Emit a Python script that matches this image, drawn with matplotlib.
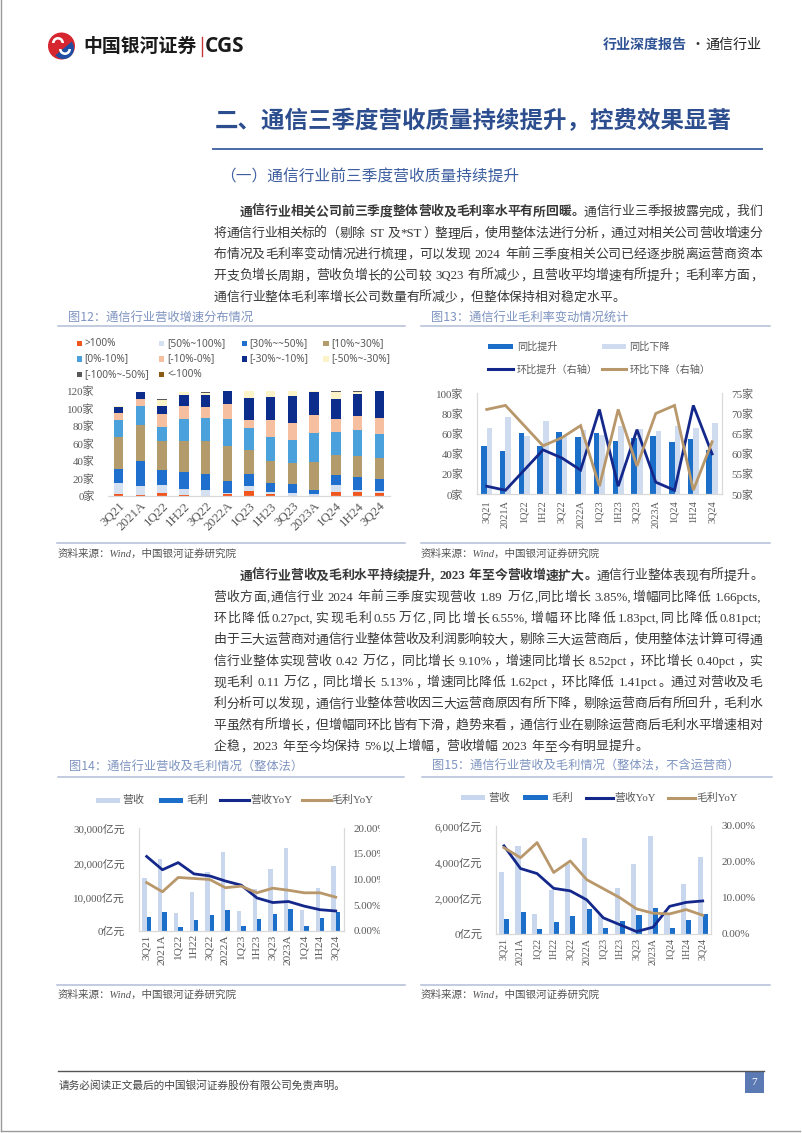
import matplotlib
matplotlib.use('Agg')
import matplotlib.pyplot as plt
from matplotlib.patches import Rectangle, Circle, Wedge
from matplotlib.lines import Line2D
from matplotlib.ticker import FuncFormatter
from matplotlib.transforms import Bbox, TransformedBbox
import numpy as np

W, H = 802, 1133
CJK = 'Noto Sans CJK SC'
SERIF = ['Liberation Serif', CJK]
plt.rcParams['font.family'] = [CJK, 'DejaVu Sans']
plt.rcParams['axes.unicode_minus'] = False

# ---------------- data ----------------
cats = ['3Q21', '2021A', '1Q22', '1H22', '3Q22', '2022A', '1Q23', '1H23',
        '3Q23', '2023A', '1Q24', '1H24', '3Q24']

# Fig12: distribution of revenue growth (number of companies)
dist_labels = ['>100%', '[50%~100%]', '[30%~~50%]', '[10%~30%]', '[0%-10%]',
               '[-10%-0%]', '[-30%~-10%]', '[-50%~-30%]', '[-100%~-50%]', '<-100%']
gt100     = [2, 1, 3, 1, 0, 2, 5, 2, 0, 0, 4, 4, 3]
r50_100   = [13, 10, 9, 7, 6, 1, 6, 2, 3, 2, 8, 3, 2]
r30_50    = [15, 29, 17, 19, 19, 14, 14, 11, 10, 5, 12, 14, 14]
r10_30    = [37, 41, 34, 36, 37, 40, 27, 25, 24, 32, 23, 24, 24]
r0_10     = [19, 22, 16, 25, 27, 31, 25, 27, 27, 33, 26, 30, 28]
rm10_0    = [9, 7, 14, 15, 12, 17, 10, 20, 19, 20, 15, 16, 18]
rm30_m10  = [6, 9, 9, 12, 14, 15, 25, 26, 31, 26, 22, 25, 31]
rm50_m30  = [1, 0, 7, 3, 2, 0, 8, 7, 6, 2, 8, 3, 0]
rm100_m50 = [1, 0, 2, 0, 2, 0, 0, 0, 0, 0, 2, 1, 0]
lt_m100   = [0, 0, 0, 0, 0, 0, 0, 0, 0, 0, 0, 0, 0]
dist_colors = ['#f0561d', '#d5e0f1', '#1f6fce', '#b39b6c', '#4ba1dc',
               '#f6bf9f', '#0c2d8b', '#fdf3c9', '#595959', '#8c5a14']

# Fig13: gross margin change (number of companies)
yoy_up    = [48, 43, 61, 48, 62, 57, 61, 53, 56, 58, 52, 55, 44]
yoy_down  = [66, 77, 58, 73, 58, 64, 59, 68, 65, 63, 68, 66, 71]
qoq_up    = [52, 51, 56, 61, 59, 56, 71, 52, 66, 53, 51, 72, 60]
qoq_down  = [71, 72, 67, 62, 64, 67, 52, 71, 57, 70, 72, 51, 63]
fig13_labels = ['同比提升', '同比下降', '环比提升（右轴）', '环比下降（右轴）']

# Fig14: industry revenue & gross profit (亿元, %)
rev       = [15500, 21000, 5300, 11400, 17100, 23100, 5800, 12100, 18200, 24300, 6100, 12600, 19000]
gp        = [4100, 5600, 1200, 3000, 4500, 6100, 1300, 3300, 5000, 6500, 1500, 3600, 5500]
rev_yoy   = [14.5, 11.9, 13.3, 11.1, 10.7, 9.7, 8.9, 6.4, 5.5, 5.7, 4.8, 4.1, 3.85]
gp_yoy    = [9.4, 7.6, 10.4, 10.2, 10.0, 8.4, 8.7, 7.4, 8.3, 7.9, 7.4, 7.4, 6.55]

# Fig15: excluding operators
rev_ex     = [3440, 4870, 1110, 2450, 3900, 5330, 1040, 2540, 3890, 5440, 1050, 2780, 4240]
gp_ex      = [815, 1200, 280, 630, 980, 1370, 310, 690, 1060, 1440, 310, 740, 1110]
rev_ex_yoy = [24.4, 18.1, 16.7, 12.6, 11.9, 9.4, 4.4, 2.5, 0.6, 1.8, 7.6, 8.7, 9.1]
gp_ex_yoy  = [23.9, 21.1, 25.3, 17.0, 20.2, 15.0, 12.5, 10.0, 6.9, 5.7, 5.5, 6.7, 5.13]
fin_labels = ['营收', '毛利', '营收YoY', '毛利YoY']

# ---------------- styles ----------------
LIGHT = '#c9d7ee'
BLUE = '#1c6fc9'
NAVY = '#14288b'
TAN = '#b8976b'
TXT = '#595959'
SPINE = '#d9d9d9'
CAP = '#7d93c0'
BODY = '#383838'

fig = plt.figure(figsize=(W / 100, H / 100), dpi=100)
page = fig.add_axes([0, 0, 1, 1])
page.set_xlim(0, W)
page.set_ylim(H, 0)
page.axis('off')


def add_ax(l, t, r, b):
    return fig.add_axes([l / W, 1 - b / H, (r - l) / W, (b - t) / H])


def style(ax, spines=('bottom',)):
    for s in ax.spines:
        ax.spines[s].set_visible(s in spines)
        ax.spines[s].set_color(SPINE)
        ax.spines[s].set_linewidth(0.9)
    ax.tick_params(length=0, colors=TXT)
    ax.patch.set_alpha(0)


def set_font(labels, size):
    for t in labels:
        t.set_fontfamily(SERIF)
        t.set_fontsize(size)
        t.set_color(TXT)


x = np.arange(len(cats))

# ---------------- Fig12 ----------------
ax1 = add_ax(107.8, 390.7, 390.2, 495.7)
style(ax1, ('bottom',))
bottom = np.zeros(len(cats))
series = [gt100, r50_100, r30_50, r10_30, r0_10, rm10_0, rm30_m10, rm50_m30, rm100_m50, lt_m100]
for vals, col in zip(series, dist_colors):
    ax1.bar(x, vals, 0.43, bottom=bottom, color=col, linewidth=0)
    bottom += np.array(vals)
ax1.set_xlim(-0.5, len(cats) - 0.5)
ax1.set_ylim(0, 120)
ax1.set_yticks(range(0, 121, 20))
ax1.yaxis.set_major_formatter(FuncFormatter(lambda v, p: f'{v:.0f}家'))
ax1.set_xticks(x)
ax1.set_xticklabels(cats, rotation=45, ha='right', va='top', rotation_mode='anchor')
ax1.tick_params(axis='y', pad=9.5)
ax1.tick_params(axis='x', pad=3)
set_font(ax1.get_yticklabels(), 7.9)
set_font(ax1.get_xticklabels(), 9.4)

# legend Fig12
rows = [343.3, 359.0, 374.6]
cols = [76.7, 159.0, 241.7, 323.3]
for i, (lab, col) in enumerate(zip(dist_labels, dist_colors)):
    r, c = divmod(i, 4)
    page.add_patch(Rectangle((cols[c], rows[r] - 2.7), 5.4, 5.4, color=col, lw=0))
    page.text(cols[c] + 8, rows[r], lab, fontsize=7.3, family=['Noto Sans', CJK],
              color=TXT, va='center', ha='left')

# ---------------- Fig13 ----------------
ax2 = add_ax(477.3, 393.3, 721.5, 494.3)
style(ax2, ('bottom', 'left', 'right'))
ax2.bar(x - 0.15, yoy_up, 0.30, color=BLUE, linewidth=0)
ax2.bar(x + 0.15, yoy_down, 0.30, color='#cfdcf0', linewidth=0)
ax2.set_xlim(-0.5, len(cats) - 0.5)
ax2.set_ylim(0, 100)
ax2.set_yticks(range(0, 101, 20))
ax2.yaxis.set_major_formatter(FuncFormatter(lambda v, p: f'{v:.0f}家'))
ax2.set_xticks(x)
ax2.set_xticklabels(cats, rotation=90, ha='center', va='top')
ax2.tick_params(axis='y', pad=10)
ax2.tick_params(axis='x', pad=4.5)
set_font(ax2.get_yticklabels(), 7.9)
set_font(ax2.get_xticklabels(), 7.4)
ax2r = ax2.twinx()
style(ax2r, ())
ax2r.plot(x, qoq_up, color=NAVY, lw=2.0, solid_joinstyle='miter')
ax2r.plot(x, qoq_down, color=TAN, lw=2.0, solid_joinstyle='miter')
ax2r.set_ylim(50, 75)
ax2r.set_yticks(range(50, 76, 5))
ax2r.yaxis.set_major_formatter(FuncFormatter(lambda v, p: f'{v:.0f}家'))
ax2r.tick_params(axis='y', pad=7.3)
set_font(ax2r.get_yticklabels(), 7.9)

# legend Fig13
page.add_patch(Rectangle((488, 344.2), 25, 5.2, color=BLUE, lw=0))
page.text(516.7, 346.8, fig13_labels[0], fontsize=7.3, color=TXT, va='center')
page.add_patch(Rectangle((601.7, 344.2), 24, 5.2, color='#cfdcf0', lw=0))
page.text(629.3, 346.8, fig13_labels[1], fontsize=7.3, color=TXT, va='center')
page.add_line(Line2D([488, 513], [369.3, 369.3], color=NAVY, lw=2.2))
page.text(516.7, 369.3, fig13_labels[2], fontsize=7.3, color=TXT, va='center')
page.add_line(Line2D([601.7, 625.7], [369.3, 369.3], color=TAN, lw=2.2))
page.text(629.3, 369.3, fig13_labels[3], fontsize=7.3, color=TXT, va='center')

# ---------------- Fig14 ----------------
ax3 = add_ax(138.8, 828.3, 343.6, 930.7)
style(ax3, ('bottom', 'left', 'right'))
ax3.bar(x - 0.14, rev, 0.28, color=LIGHT, linewidth=0)
ax3.bar(x + 0.14, gp, 0.28, color=BLUE, linewidth=0)
ax3.set_xlim(-0.5, len(cats) - 0.5)
ax3.set_ylim(0, 30000)
ax3.set_yticks(range(0, 30001, 10000))
ax3.yaxis.set_major_formatter(FuncFormatter(lambda v, p: f'{v:,.0f}亿元'))
ax3.set_xticks(x)
ax3.set_xticklabels(cats, rotation=90, ha='center', va='top')
ax3.tick_params(axis='y', pad=10)
ax3.tick_params(axis='x', pad=2.6)
set_font(ax3.get_yticklabels(), 7.9)
set_font(ax3.get_xticklabels(), 8.2)
ax3r = ax3.twinx()
style(ax3r, ())
ax3r.plot(x, rev_yoy, color=NAVY, lw=2.0)
ax3r.plot(x, gp_yoy, color=TAN, lw=2.0)
ax3r.set_ylim(0, 20)
ax3r.set_yticks(range(0, 21, 5))
ax3r.yaxis.set_major_formatter(FuncFormatter(lambda v, p: f'{v:.2f}%'))
ax3r.tick_params(axis='y', pad=7)
set_font(ax3r.get_yticklabels(), 7.9)
clipbox = TransformedBbox(Bbox.from_extents(0, 0, 380 / W, 1), fig.transFigure)
for tk in ax3r.yaxis.get_major_ticks():
    tk.label2.set_clip_on(True)
    tk.label2.set_clip_box(clipbox)

# legend Fig14
ly = 800.3
page.add_patch(Rectangle((96, ly - 2.4), 24, 4.8, color=LIGHT, lw=0))
page.text(122.7, ly, fin_labels[0], fontsize=7.9, color=TXT, va='center', family=SERIF)
page.add_patch(Rectangle((159, ly - 2.4), 24.3, 4.8, color=BLUE, lw=0))
page.text(186, ly, fin_labels[1], fontsize=7.9, color=TXT, va='center', family=SERIF)
page.add_line(Line2D([220, 249.3], [ly, ly], color=NAVY, lw=2.2))
page.text(250, ly, fin_labels[2], fontsize=7.9, color=TXT, va='center', family=SERIF)
page.add_line(Line2D([301.7, 330.7], [ly, ly], color=TAN, lw=2.2))
page.text(331.7, ly, fin_labels[3], fontsize=7.9, color=TXT, va='center', family=SERIF)

# ---------------- Fig15 ----------------
ax4 = add_ax(495.7, 825.7, 711.0, 933.7)
style(ax4, ('bottom', 'left', 'right'))
ax4.bar(x - 0.155, rev_ex, 0.31, color=LIGHT, linewidth=0)
ax4.bar(x + 0.155, gp_ex, 0.31, color=BLUE, linewidth=0)
ax4.set_xlim(-0.5, len(cats) - 0.5)
ax4.set_ylim(0, 6000)
ax4.set_yticks(range(0, 6001, 2000))
ax4.yaxis.set_major_formatter(FuncFormatter(lambda v, p: f'{v:,.0f}亿元'))
ax4.set_xticks(x)
ax4.set_xticklabels(cats, rotation=90, ha='center', va='top')
ax4.tick_params(axis='y', pad=9.6)
ax4.tick_params(axis='x', pad=3)
set_font(ax4.get_yticklabels(), 8.1)
set_font(ax4.get_xticklabels(), 7.2)
ax4r = ax4.twinx()
style(ax4r, ())
ax4r.plot(x, rev_ex_yoy, color=NAVY, lw=2.0)
ax4r.plot(x, gp_ex_yoy, color=TAN, lw=2.0)
ax4r.set_ylim(0, 30)
ax4r.set_yticks(range(0, 31, 10))
ax4r.yaxis.set_major_formatter(FuncFormatter(lambda v, p: f'{v:.2f}%'))
ax4r.tick_params(axis='y', pad=7.7)
set_font(ax4r.get_yticklabels(), 8.0)

ly = 797.7
page.add_patch(Rectangle((461, ly - 2.4), 24, 4.8, color=LIGHT, lw=0))
page.text(488.3, ly, fin_labels[0], fontsize=7.8, color=TXT, va='center', family=SERIF)
page.add_patch(Rectangle((523.3, ly - 2.4), 25, 4.8, color=BLUE, lw=0))
page.text(551.7, ly, fin_labels[1], fontsize=7.8, color=TXT, va='center', family=SERIF)
page.add_line(Line2D([585.7, 613.3], [ly, ly], color=NAVY, lw=2.2))
page.text(614, ly, fin_labels[2], fontsize=7.8, color=TXT, va='center', family=SERIF)
page.add_line(Line2D([667.7, 695], [ly, ly], color=TAN, lw=2.2))
page.text(696, ly, fin_labels[3], fontsize=7.8, color=TXT, va='center', family=SERIF)

# ---------------- page text ----------------
renderer = fig.canvas.get_renderer()
PUNCT_L = '，。；：、！？'


def draw_line(segs, x0, x1, yc, size, justify=True, color=BODY):
    em = size * 100 / 72
    toks = []
    for s, bold in segs:
        buf = ''
        pend = 0
        for ch in s:
            if ch == ' ':
                if buf:
                    toks.append([buf, bold, 'a', pend]); buf = ''; pend = 0
                pend += 1
            elif ord(ch) < 128:
                buf += ch
            else:
                if buf:
                    toks.append([buf, bold, 'a', pend]); buf = ''; pend = 0
                toks.append([ch, bold, 'c', pend]); pend = 0
        if buf:
            toks.append([buf, bold, 'a', pend])
    for t in toks:
        if t[2] == 'c':
            w = em
        else:
            tt = page.text(0, 0, t[0], fontsize=size, family=SERIF,
                           fontweight='bold' if t[1] else 'normal')
            w = tt.get_window_extent(renderer).width + 0.08 * em
            tt.remove()
        t.append(w)
    natural = sum(t[4] + t[3] * 0.3 * em for t in toks)
    n = len(toks)
    gap = (x1 - x0 - natural) / (n - 1) if (justify and n > 1) else 0
    base = yc + 0.38 * em
    xx = x0
    for t in toks:
        xx += t[3] * 0.3 * em
        s, bold, kind, _, w = t
        fw = 'bold' if bold else 'normal'
        if kind == 'a':
            page.text(xx + 0.04 * em, base, s, fontsize=size, family=SERIF, fontweight=fw,
                      color=color, ha='left', va='baseline')
        else:
            if s in PUNCT_L or s == '）':
                page.text(xx + 0.08 * em, base, s, fontsize=size, fontweight=fw,
                          color=color, ha='left', va='baseline')
            elif s == '（':
                page.text(xx + 0.92 * em, base, s, fontsize=size, fontweight=fw,
                          color=color, ha='right', va='baseline')
            else:
                page.text(xx + em / 2, base, s, fontsize=size, fontweight=fw,
                          color=color, ha='center', va='baseline')
        xx += w + gap


# header
page.add_patch(Circle((61.5, 46), 13.5, color='#d6262f', lw=0))
page.add_patch(Wedge((63.5, 48.5), 10.5, -40, 140, color='#1f4ea3', lw=0))
page.add_patch(Wedge((58, 43), 6, 180, 360, width=2.6, color='white', lw=0))
page.add_patch(Wedge((65, 49), 6, 0, 180, width=2.6, color='white', lw=0))
page.text(83, 46, '中国银河证券', fontsize=13.6, fontweight='bold', color='#1a1a1a',
          va='center', ha='left')
page.add_line(Line2D([201.5, 201.5], [36.5, 55.5], color='#c9343a', lw=1.0))
page.text(205, 46.5, 'CGS', fontsize=15, fontweight='bold', family=['Open Sans', 'DejaVu Sans'],
          color='#1a1a1a', va='center', ha='left')
page.text(602.7, 45, '行业深度报告', fontsize=10.1, fontweight='bold', color='#2f5395',
          va='center', ha='left')
page.text(698, 45, '·', fontsize=10, color='#333333', va='center', ha='center')
page.text(705.7, 45, '通信行业', fontsize=10.1, color='#222222', va='center', ha='left')

# title
page.text(214.8, 121, '二、通信三季度营收质量持续提升，控费效果显著', fontsize=16.9,
          fontweight='bold', color='#2c4d8e', va='center', ha='left')
page.add_line(Line2D([213, 762], [148.5, 148.5], color='#4a6aa8', lw=1.4))
page.text(220, 176.7, '（一）通信行业前三季度营收质量持续提升', fontsize=11.3,
          fontweight='medium', color='#3d5fa0', va='center', ha='left')

FS = 9.25
X0, X1 = 213.5, 762
p1 = [
    ([('通信行业相关公司前三季度整体营收及毛利率水平有所回暖。', True),
      ('通信行业三季报披露完成，我们', False)], 239.4, True),
    ([('将通信行业相关标的（剔除 ST 及*ST）整理后，使用整体法进行分析，通过对相关公司营收增速分', False)], X0, True),
    ([('布情况及毛利率变动情况进行梳理，可以发现 2024 年前三季度相关公司已经逐步脱离运营商资本', False)], X0, True),
    ([('开支负增长周期，营收负增长的公司较 3Q23 有所减少，且营收平均增速有所提升；毛利率方面，', False)], X0, True),
    ([('通信行业整体毛利率增长公司数量有所减少，但整体保持相对稳定水平。', False)], X0, False),
]
for i, (segs, xs, just) in enumerate(p1):
    draw_line(segs, xs, X1, 210.5 + i * 21.35, FS, just)

p2 = [
    ([('通信行业营收及毛利水平持续提升, 2023 年至今营收增速扩大。', True),
      ('通信行业整体表现有所提升。', False)], 239.4, True),
    ([('营收方面,通信行业 2024 年前三季度实现营收 1.89 万亿,同比增长 3.85%,增幅同比降低 1.66pcts,', False)], X0, True),
    ([('环比降低0.27pct,实现毛利0.55万亿,同比增长6.55%,增幅环比降低1.83pct,同比降低0.81pct;', False)], X0, True),
    ([('由于三大运营商对通信行业整体营收及利润影响较大，剔除三大运营商后，使用整体法计算可得通', False)], X0, True),
    ([('信行业整体实现营收 0.42 万亿，同比增长 9.10%，增速同比增长 8.52pct，环比增长 0.40pct，实', False)], X0, True),
    ([('现毛利 0.11 万亿，同比增长 5.13%，增速同比降低 1.62pct，环比降低 1.41pct。通过对营收及毛', False)], X0, True),
    ([('利分析可以发现，通信行业整体营收因三大运营商原因有所下降，剔除运营商后有所回升，毛利水', False)], X0, True),
    ([('平虽然有所增长，但增幅同环比皆有下滑，趋势来看，通信行业在剔除运营商后毛利水平增速相对', False)], X0, True),
    ([('企稳，2023 年至今均保持 5%以上增幅，营收增幅 2023 年至今有明显提升。', False)], X0, False),
]
for i, (segs, xs, just) in enumerate(p2):
    draw_line(segs, xs, X1, 574.5 + i * 21.35, FS, just)

# captions & rules
for (cx, cy, txt) in [(68.3, 317, '图12：通信行业营收增速分布情况'),
                      (431, 317, '图13：通信行业毛利率变动情况统计'),
                      (69, 766.5, '图14：通信行业营收及毛利情况（整体法）'),
                      (432, 766.5, '图15：通信行业营收及毛利情况（整体法，不含运营商）')]:
    page.text(cx, cy, txt, fontsize=8.8, color=CAP, va='center', ha='left')
for (xa, xb, yy) in [(58, 405, 326), (421, 770, 326), (58, 404, 776.5), (422, 772, 776.5),
                     (57, 405, 542.5), (421, 770, 542.5), (57, 405, 984.5), (421, 770, 984.5)]:
    page.add_line(Line2D([xa, xb], [yy, yy], color='#b3bed6', lw=1.1))
for (sx, sy) in [(58, 553.5), (421, 553.5), (58, 994.5), (421, 994.5)]:
    page.text(sx, sy, '资料来源：Wind，中国银河证券研究院', fontsize=7.6, style='italic',
              family=SERIF, color='#555555', va='center', ha='left')

# footer
page.add_line(Line2D([58, 763.6], [1071, 1071], color='#555555', lw=1.0))
page.text(58.5, 1085, '请务必阅读正文最后的中国银河证券股份有限公司免责声明。', fontsize=7.7,
          color='#444444', va='center', ha='left')
page.add_patch(Rectangle((745, 1071), 18.6, 22, color='#5b7ab3', lw=0))
page.text(754.3, 1082.5, '7', fontsize=8.2, color='white', va='center', ha='center', family=SERIF)

# page frame
page.add_line(Line2D([1, 1], [0, 1131], color='#9a9a9a', lw=1.0))
page.add_line(Line2D([1, 800], [1131, 1131], color='#9a9a9a', lw=1.0))

fig.savefig('out.png', dpi=100)
